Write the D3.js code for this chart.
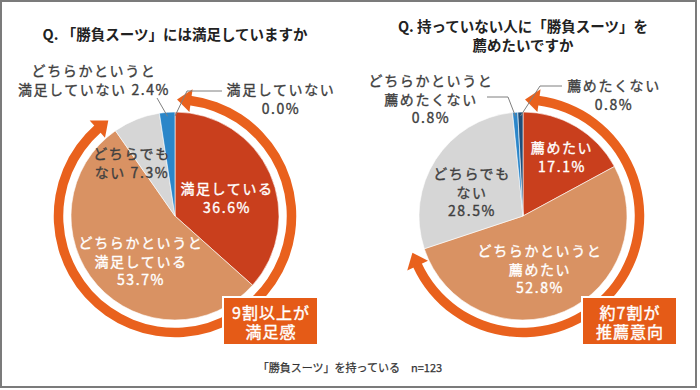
<!DOCTYPE html>
<html>
<head>
<meta charset="utf-8">
<script src="https://cdn.jsdelivr.net/npm/d3@7"></script>
<style>
  body { margin: 0; background: #fff; }
  svg text { font-family: "Noto Sans CJK JP", "Noto Sans", sans-serif; }
</style>
</head>
<body>
<svg id="chart" width="700" height="390"></svg>
<script>
// left pie: satisfaction, clockwise from 12 o'clock
var leftCats = ["満足していない", "満足している", "どちらかというと満足している", "どちらでもない", "どちらかというと満足していない"];
var leftValues = [0.0, 36.6, 53.7, 7.3, 2.4];
// right pie: would you recommend
var rightCats = ["薦めたい", "どちらかというと薦めたい", "どちらでもない", "どちらかというと薦めたくない", "薦めたくない"];
var rightValues = [17.1, 52.8, 28.5, 0.8, 0.8];

var leftTitle = ["Q. 「勝負スーツ」には満足していますか"];
var rightTitle = ["Q. 持っていない人に「勝負スーツ」を", "薦めたいですか"];
var leftBadge = ["9割以上が", "満足感"];
var rightBadge = ["約7割が", "推薦意向"];
var footnote = "「勝負スーツ」を持っている　n=123";

// label lines per slice, {v} gets the value
var leftLabelLines = [["満足していない", "{v}"], ["満足している", "{v}"], ["どちらかというと", "満足している", "{v}"], ["どちらでも", "ない {v}"], ["どちらかというと", "満足していない {v}"]];
var rightLabelLines = [["薦めたい", "{v}"], ["どちらかというと", "薦めたい", "{v}"], ["どちらでも", "ない", "{v}"], ["どちらかというと", "薦めたくない", "{v}"], ["薦めたくない", "{v}"]];

// how many leading slices the arrow wraps (left includes the 0.0% one)
var leftArrowSlices = 3;
var rightArrowSlices = 2;

var svg = d3.select("#chart");
var R = 104;

// frame
svg.append("rect")
  .attr("x", 1).attr("y", 1)
  .attr("width", 695).attr("height", 386)
  .attr("fill", "#fff")
  .attr("stroke", "#7b7b7b")
  .attr("stroke-width", 2);

function drawPie(opts) {
  var g = svg.append("g").attr("transform", `translate(${opts.cx}, ${opts.cy})`);

  // title
  svg.append("text")
    .attr("x", opts.cx)
    .attr("y", opts.titleY)
    .attr("text-anchor", "middle")
    .attr("font-size", 14.5)
    .attr("font-weight", "bold")
    .attr("fill", "#222")
    .selectAll("tspan")
    .data(opts.title)
    .join("tspan")
    .attr("x", opts.cx)
    .attr("dy", (d, i) => (i == 0 ? 0 : 19))
    .text((d) => d);

  var data = opts.cats.map((c, i) => ({ cat: c, value: opts.values[i], idx: i }));
  var arcs = d3.pie().sort(null).value((d) => d.value)(data);
  var arc = d3.arc().innerRadius(0).outerRadius(R);

  g.selectAll(".slice")
    .data(arcs)
    .join("path")
    .attr("class", "slice")
    .attr("fill", (d) => opts.colors[d.index])
    .attr("stroke", "#fff")
    .attr("stroke-width", 0.6)
    .attr("d", arc);

  // orange arrow around the positive answers
  var total = d3.sum(opts.values);
  var pos = d3.sum(opts.values.slice(0, opts.arrowSlices));
  var a0 = (1 / 360) * 2 * Math.PI;
  var a1 = (pos / total) * 2 * Math.PI;
  var rr = 116.5, band = 9.5, headLen = 14 / rr, headHalf = 11.5;
  var ringArc = d3.arc().innerRadius(rr - band / 2).outerRadius(rr + band / 2);
  g.append("path")
    .attr("fill", "#e9611d")
    .attr("d", ringArc({ startAngle: a0 + headLen - 0.01, endAngle: a1 - headLen + 0.01 }));
  function pt(a, r) {
    return [Math.sin(a) * r, -Math.cos(a) * r];
  }
  [[a0, a0 + headLen], [a1, a1 - headLen]].forEach(function (h) {
    var tip = pt(h[0], rr);
    var b1 = pt(h[1], rr - headHalf);
    var b2 = pt(h[1], rr + headHalf);
    g.append("path")
      .attr("fill", "#e9611d")
      .attr("d", `M${tip}L${b1}L${b2}Z`);
  });

  // leader lines
  opts.leaders.forEach(function (l) {
    var s = arcs[l.slice];
    var m = (s.startAngle + s.endAngle) / 2;
    var pts = [pt(m, 100)].concat(l.pts);
    g.append("path")
      .attr("fill", "none")
      .attr("stroke", "#7f7f7f")
      .attr("stroke-width", 1)
      .attr("d", d3.line()(pts));
  });

  // slice labels
  arcs.forEach(function (s) {
    var p = opts.labelPos[s.index];
    var col = p.white ? "#fff" : "#404040";
    var lines = opts.labelLines[s.index].map((t) => t.replace("{v}", s.data.value.toFixed(1) + "%"));
    g.append("text")
      .attr("text-anchor", "middle")
      .attr("font-size", 14)
      .attr("letter-spacing", 1.6)
      .attr("fill", col)
      .attr("stroke", col)
      .attr("stroke-width", 0.35)
      .selectAll("tspan")
      .data(lines)
      .join("tspan")
      .attr("x", p.x)
      .attr("y", (d, i) => p.y + i * 18.5)
      .attr("dominant-baseline", "central")
      .text((d) => d);
  });

  // badge
  var b = opts.badge;
  g.append("rect")
    .attr("x", b.x).attr("y", b.y)
    .attr("width", 95).attr("height", 48)
    .attr("fill", "#e55b17")
    .attr("stroke", "#fff")
    .attr("stroke-width", 2);
  g.append("text")
    .attr("text-anchor", "middle")
    .attr("font-size", 16)
    .attr("letter-spacing", 1)
    .attr("fill", "#fff")
    .attr("stroke", "#fff")
    .attr("stroke-width", 0.4)
    .selectAll("tspan")
    .data(opts.badgeText)
    .join("tspan")
    .attr("x", b.x + 48)
    .attr("y", (d, i) => b.y + 15 + i * 19)
    .attr("dominant-baseline", "central")
    .text((d) => d);
}

drawPie({
  cx: 175, cy: 216, titleY: 40,
  title: leftTitle,
  cats: leftCats, values: leftValues,
  colors: ["#1f4e79", "#c93f1d", "#d99263", "#d6d6d6", "#2b86c9"],
  arrowSlices: leftArrowSlices,
  labelLines: leftLabelLines,
  labelPos: [
    { x: 106, y: -127 },
    { x: 52, y: -28, white: true },
    { x: -34, y: 26, white: true },
    { x: -43, y: -63 },
    { x: -81, y: -146 },
  ],
  leaders: [
    { slice: 0, pts: [[12, -125], [47, -125]] },
    { slice: 4, pts: [[-18, -118]] },
  ],
  badge: { x: 48, y: 81 },
  badgeText: leftBadge,
});

drawPie({
  cx: 523, cy: 216, titleY: 32,
  title: rightTitle,
  cats: rightCats, values: rightValues,
  colors: ["#c93f1d", "#d99263", "#d6d6d6", "#2b86c9", "#1f4e79"],
  arrowSlices: rightArrowSlices,
  labelLines: rightLabelLines,
  labelPos: [
    { x: 39, y: -69, white: true },
    { x: 17, y: 34, white: true },
    { x: -51, y: -43 },
    { x: -92, y: -136 },
    { x: 91, y: -131 },
  ],
  leaders: [
    { slice: 3, pts: [[-15, -119], [-36, -119]] },
    { slice: 4, pts: [[17, -130], [39, -130]] },
  ],
  badge: { x: 59, y: 81 },
  badgeText: rightBadge,
});

svg.append("text")
  .attr("x", 350)
  .attr("y", 367)
  .attr("text-anchor", "middle")
  .attr("dominant-baseline", "central")
  .attr("font-size", 11)
  .attr("fill", "#333")
  .attr("stroke", "#333")
  .attr("stroke-width", 0.25)
  .text(footnote);
</script>
</body>
</html>
